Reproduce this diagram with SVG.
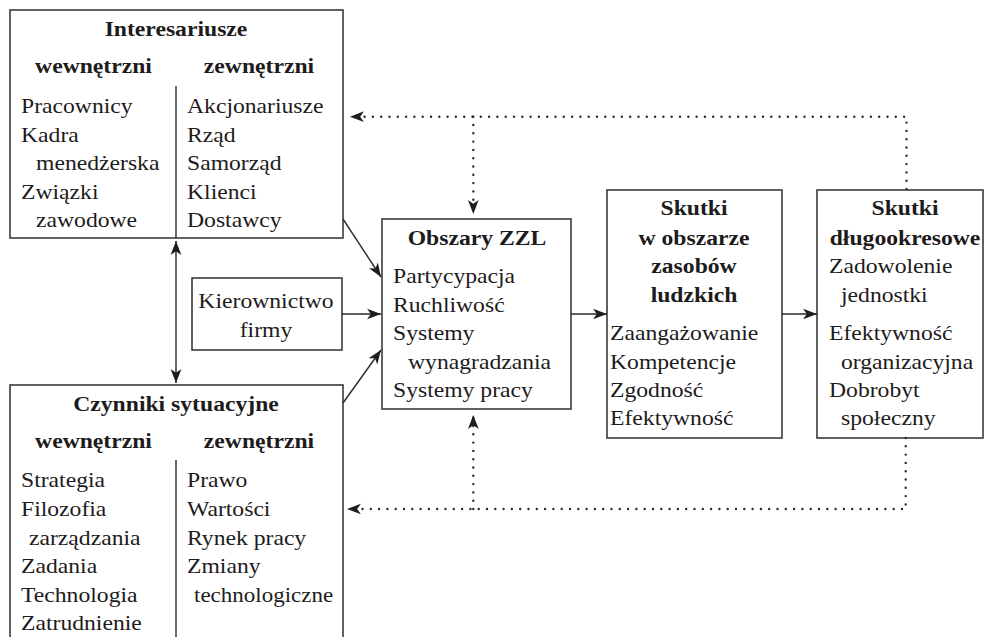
<svg xmlns="http://www.w3.org/2000/svg" width="984" height="637" viewBox="0 0 984 637">
  <defs>
    <style>
      .box { fill: #ffffff; stroke: #3a3a3a; stroke-width: 1.6; }
      .div { stroke: #2a2a2a; stroke-width: 1.4; fill: none; }
      .t { font-size: 21.5px; fill: #1e1b1c; }
      .h { font-size: 21.5px; font-weight: bold; fill: #1e1b1c; text-anchor: middle; }
      .c { text-anchor: middle; }
      .solid { stroke: #2a2a2a; stroke-width: 1.4; fill: none; }
      .dots { stroke: #2a2a2a; stroke-width: 2.4; fill: none; stroke-linecap: round; stroke-dasharray: 0 8.3; }
    </style>
    <marker id="arrow" markerUnits="userSpaceOnUse" markerWidth="15" markerHeight="12" refX="13" refY="5" orient="auto-start-reverse" viewBox="0 0 14 10">
      <path d="M0,0 L13,5 L0,10 L3.5,5 Z" fill="#1e1e1e"/>
    </marker>
  </defs>

  <rect width="984" height="637" fill="#ffffff"/>

  <g font-family="Liberation Serif, Times New Roman, serif">
  <!-- Stakeholders (text set slightly wide: scale 1.1 horizontally) -->
  <g id="interesariusze">
    <rect class="box" x="10" y="10" width="333" height="228"/>
    <line class="div" x1="176" y1="86" x2="176" y2="238"/>
    <text class="h" transform="translate(176,36) scale(1.1,1)">Interesariusze</text>
    <text class="h" transform="translate(93.5,73) scale(1.1,1)">wewnętrzni</text>
    <text class="h" transform="translate(259,73) scale(1.1,1)">zewnętrzni</text>
    <text class="t" transform="translate(21,113) scale(1.1,1)">Pracownicy</text>
    <text class="t" transform="translate(21,142) scale(1.1,1)">Kadra</text>
    <text class="t" transform="translate(36,170) scale(1.1,1)">menedżerska</text>
    <text class="t" transform="translate(21,199) scale(1.1,1)">Związki</text>
    <text class="t" transform="translate(36,227) scale(1.1,1)">zawodowe</text>
    <text class="t" transform="translate(187,113) scale(1.1,1)">Akcjonariusze</text>
    <text class="t" transform="translate(187,142) scale(1.1,1)">Rząd</text>
    <text class="t" transform="translate(187,170) scale(1.1,1)">Samorząd</text>
    <text class="t" transform="translate(187,199) scale(1.1,1)">Klienci</text>
    <text class="t" transform="translate(187,227) scale(1.1,1)">Dostawcy</text>
  </g>

  <!-- Management -->
  <g id="kierownictwo">
    <rect class="box" x="192" y="278" width="150" height="72"/>
    <text class="t c" transform="translate(266,308) scale(1.1,1)">Kierownictwo</text>
    <text class="t c" transform="translate(266,337) scale(1.1,1)">firmy</text>
  </g>

  <!-- Situational factors -->
  <g id="czynniki">
    <rect class="box" x="10" y="385" width="333" height="270"/>
    <line class="div" x1="176" y1="460" x2="176" y2="640"/>
    <text class="h" transform="translate(176,411) scale(1.1,1)">Czynniki sytuacyjne</text>
    <text class="h" transform="translate(93.5,448) scale(1.1,1)">wewnętrzni</text>
    <text class="h" transform="translate(259,448) scale(1.1,1)">zewnętrzni</text>
    <text class="t" transform="translate(21,487) scale(1.1,1)">Strategia</text>
    <text class="t" transform="translate(21,516) scale(1.1,1)">Filozofia</text>
    <text class="t" transform="translate(29,545) scale(1.1,1)">zarządzania</text>
    <text class="t" transform="translate(21,573) scale(1.1,1)">Zadania</text>
    <text class="t" transform="translate(21,602) scale(1.1,1)">Technologia</text>
    <text class="t" transform="translate(21,630) scale(1.1,1)">Zatrudnienie</text>
    <text class="t" transform="translate(187,487) scale(1.1,1)">Prawo</text>
    <text class="t" transform="translate(187,516) scale(1.1,1)">Wartości</text>
    <text class="t" transform="translate(187,545) scale(1.1,1)">Rynek pracy</text>
    <text class="t" transform="translate(187,573) scale(1.1,1)">Zmiany</text>
    <text class="t" transform="translate(194,602) scale(1.07,1)">technologiczne</text>
  </g>

  <!-- HRM areas -->
  <g id="obszary">
    <rect class="box" x="382" y="219" width="189" height="190"/>
    <text class="h" transform="translate(477,245) scale(1.1,1)">Obszary ZZL</text>
    <text class="t" transform="translate(393,283) scale(1.1,1)">Partycypacja</text>
    <text class="t" transform="translate(393,312) scale(1.1,1)">Ruchliwość</text>
    <text class="t" transform="translate(393,340) scale(1.1,1)">Systemy</text>
    <text class="t" transform="translate(408,369) scale(1.1,1)">wynagradzania</text>
    <text class="t" transform="translate(393,397) scale(1.1,1)">Systemy pracy</text>
  </g>

  <!-- HR outcomes -->
  <g id="skutki-zl">
    <rect class="box" x="607" y="190" width="175" height="248"/>
    <text class="h" transform="translate(694,215) scale(1.1,1)">Skutki</text>
    <text class="h" transform="translate(694,245) scale(1.1,1)">w obszarze</text>
    <text class="h" transform="translate(694,273) scale(1.1,1)">zasobów</text>
    <text class="h" transform="translate(694,302) scale(1.1,1)">ludzkich</text>
    <text class="t" transform="translate(610,340) scale(1.1,1)">Zaangażowanie</text>
    <text class="t" transform="translate(610,369) scale(1.1,1)">Kompetencje</text>
    <text class="t" transform="translate(610,397) scale(1.1,1)">Zgodność</text>
    <text class="t" transform="translate(610,425) scale(1.1,1)">Efektywność</text>
  </g>

  <!-- Long-term outcomes -->
  <g id="skutki-dlugo">
    <rect class="box" x="817" y="190" width="166" height="248"/>
    <text class="h" transform="translate(905,215) scale(1.1,1)">Skutki</text>
    <text class="h" transform="translate(905,245) scale(1.1,1)">długookresowe</text>
    <text class="t" transform="translate(829,273) scale(1.1,1)">Zadowolenie</text>
    <text class="t" transform="translate(841,302) scale(1.1,1)">jednostki</text>
    <text class="t" transform="translate(829,340) scale(1.1,1)">Efektywność</text>
    <text class="t" transform="translate(841,369) scale(1.1,1)">organizacyjna</text>
    <text class="t" transform="translate(829,397) scale(1.1,1)">Dobrobyt</text>
    <text class="t" transform="translate(841,425) scale(1.1,1)">społeczny</text>
  </g>
  </g>

  <!-- Connectors -->
  <g id="connectors">
    <line class="solid" x1="343" y1="219" x2="381" y2="277" marker-end="url(#arrow)"/>
    <line class="solid" x1="342" y1="314" x2="381" y2="314" marker-end="url(#arrow)"/>
    <line class="solid" x1="343" y1="403" x2="381" y2="350" marker-end="url(#arrow)"/>
    <line class="solid" x1="571" y1="314" x2="607" y2="314" marker-end="url(#arrow)"/>
    <line class="solid" x1="782" y1="314" x2="817" y2="314" marker-end="url(#arrow)"/>
    <line class="solid" x1="176" y1="241" x2="176" y2="383" marker-start="url(#arrow)" marker-end="url(#arrow)"/>

    <!-- feedback loops (dotted) -->
    <path class="dots" d="M906.5,189 V116.7 H350" marker-end="url(#arrow)"/>
    <path class="dots" d="M473.3,116.7 V214" marker-end="url(#arrow)"/>
    <path class="dots" d="M905.7,438 V509 H347" marker-end="url(#arrow)"/>
    <path class="dots" d="M473.3,509 V415" marker-end="url(#arrow)"/>
  </g>
</svg>
